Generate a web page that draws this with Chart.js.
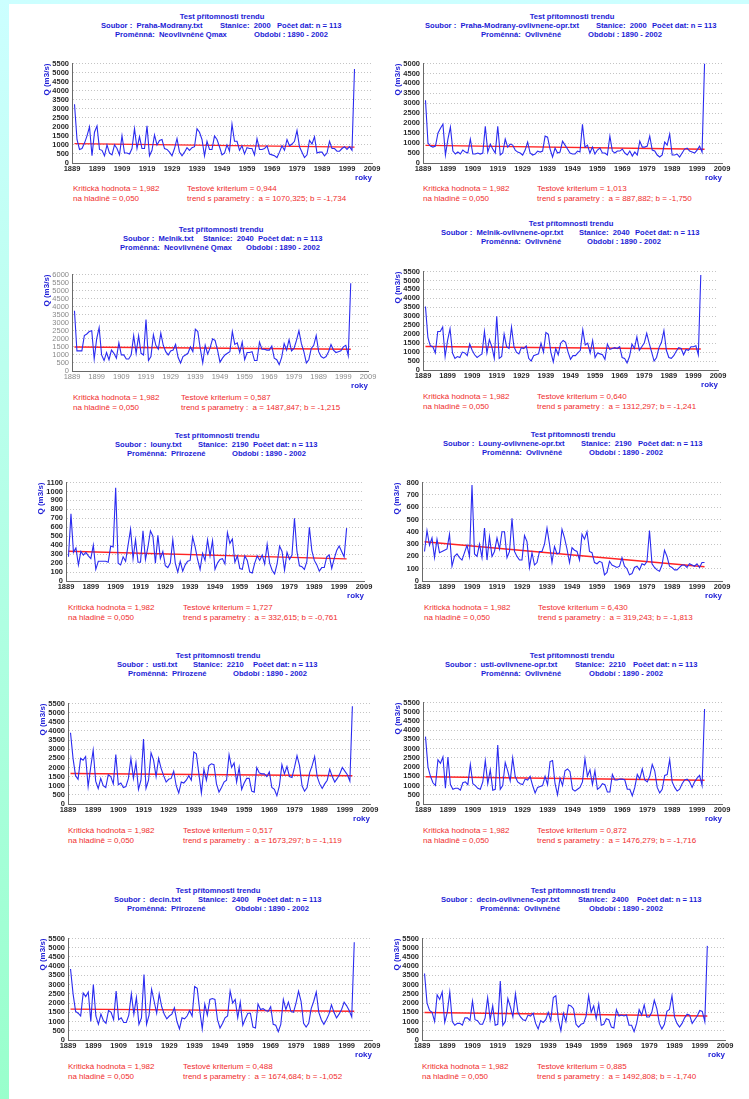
<!DOCTYPE html>
<html>
<head>
<meta charset="utf-8">
<script src="https://cdn.jsdelivr.net/npm/chart.js@4.4.1/dist/chart.umd.min.js"></script>
<style>
  html, body { margin: 0; padding: 0; }
  body {
    width: 749px; height: 1099px; position: relative; overflow: hidden;
    background: linear-gradient(#ccffff, #99ffcc);
    font-family: "Liberation Sans", Arial, sans-serif;
  }
  #sheet { position: absolute; left: 9px; top: 4px; right: 0; bottom: 0; background: #fff; }
  .t { position: absolute; white-space: pre; font-weight: bold; color: #1c1cd6; font-size: 7.6px; line-height: 10px; }
  .r { position: absolute; white-space: pre; color: #f02c2c; font-size: 8px; line-height: 10px; }
  canvas { position: absolute; }
</style>
</head>
<body>
<div id="sheet"></div>
<script>
// years 1890 - 2002 (n = 113)
const years = [];
for (let y = 1890; y <= 2002; y++) years.push(y);

// Praha-Modrany, neovlivnene Qmax
const prahaQ = [
  3250, 1300, 750, 800, 1100, 1500, 2000, 400, 1700, 2050,
  750, 700, 400, 1000, 550, 450, 1000, 800, 450, 1500,
  550, 550, 500, 800, 1900, 800, 1450, 800, 800, 2050,
  400, 700, 1550, 1000, 1250, 1300, 800, 750, 600, 400,
  800, 1350, 600, 400, 600, 850, 700, 850, 900, 1900,
  1700, 1300, 400, 1200, 750, 750, 1500, 1300, 900, 450,
  550, 1000, 650, 2150, 1200, 1200, 700, 950, 500, 850,
  800, 800, 450, 1350, 750, 750, 800, 950, 500, 450,
  400, 300, 600, 950, 700, 1300, 950, 1050, 1200, 1800,
  900, 600, 300, 450, 1250, 1050, 1450, 550, 600, 600,
  400, 550, 1200, 800, 800, 650, 650, 800, 900, 750,
  900, 700, 5200
];
// Praha-Modrany, ovlivnene
const prahaOvlQ = [
  3150, 1000, 850, 800, 850, 1500, 1750, 1950, 400, 1200,
  1800, 600, 450, 550, 450, 650, 550, 500, 1200, 450,
  450, 500, 450, 500, 1850, 550, 950, 700, 500, 1850,
  400, 500, 1200, 800, 950, 900, 650, 550, 500, 400,
  650, 1050, 500, 400, 450, 600, 550, 600, 1350, 1300,
  700, 300, 750, 500, 550, 1100, 900, 700, 500, 450,
  450, 600, 550, 1950, 800, 900, 500, 800, 450, 650,
  750, 500, 500, 400, 1350, 600, 500, 600, 600, 700,
  500, 400, 600, 350, 550, 400, 1100, 800, 800, 850,
  1350, 650, 600, 400, 300, 400, 1050, 900, 1450, 400,
  400, 450, 300, 500, 700, 750, 600, 550, 500, 650,
  850, 550, 5000
];
// Melnik, neovlivnene Qmax
const melnikQ = [
  3750, 1250, 1250, 1250, 2200, 2300, 2450, 2500, 750, 2000,
  2700, 1000, 650, 1150, 700, 1300, 1100, 800, 1750, 1000,
  1000, 750, 750, 1000, 2200, 1100, 2200, 1100, 1000, 3200,
  650, 900, 2250, 1600, 1350, 2350, 1600, 1200, 1000, 1250,
  1300, 1650, 850, 500, 900, 1000, 1100, 1500, 1200, 2600,
  2450, 1400, 500, 1600, 1050, 1450, 2000, 1900, 1300, 550,
  800, 1000, 1100, 1200, 2450, 1650, 1750, 1150, 1800, 700,
  1150, 1150, 1200, 650, 650, 1800, 1350, 1350, 1300, 1300,
  1550, 800, 700, 400, 850, 1700, 1300, 1950, 1250, 1400,
  1900, 2500, 1700, 1200, 500, 700, 1400, 1600, 2200, 1200,
  900, 800, 900, 1200, 1650, 1300, 1150, 1200, 1250, 1500,
  1600, 950, 5450
];
// Melnik, ovlivnene
const melnikOvlQ = [
  3550, 1800, 1350, 1300, 950, 2150, 2150, 2400, 750, 1650,
  2300, 950, 650, 750, 700, 1000, 950, 800, 1450, 1100,
  850, 700, 800, 900, 2150, 950, 1700, 1300, 650, 3000,
  650, 750, 2000, 1300, 1200, 2400, 1300, 1000, 900, 1250,
  1200, 1350, 650, 500, 800, 850, 900, 1500, 1000, 2100,
  2000, 1000, 450, 1200, 850, 1500, 1650, 1550, 1000, 600,
  800, 800, 950, 1100, 2250, 1400, 1500, 950, 1650, 700,
  950, 900, 850, 600, 1450, 1150, 1200, 1250, 1200, 1300,
  700, 650, 400, 750, 1450, 1200, 1850, 1100, 1300, 1500,
  2050, 1500, 1000, 500, 700, 1250, 1550, 2200, 1100, 700,
  650, 800, 1050, 1250, 1200, 850, 1150, 1100, 1300, 1300,
  1350, 850, 5300
];
// Louny, prirozene
const lounyQ = [
  270, 750, 320, 370, 180, 330, 290, 320, 280, 250,
  400, 130, 220, 220, 220, 220, 210, 390, 380, 1040,
  200, 180, 270, 220, 400, 580, 250, 460, 210, 210,
  560, 240, 380, 560, 500, 200, 510, 250, 330, 170,
  150, 200, 460, 200, 100, 220, 110, 180, 220, 230,
  490, 380, 240, 130, 310, 230, 460, 280, 450, 130,
  200, 240, 250, 190, 540, 420, 470, 210, 280, 140,
  130, 280, 230, 100, 90, 200, 280, 230, 290, 190,
  410, 200, 120, 80, 190, 390, 330, 120, 320, 240,
  290, 700, 330, 170, 160, 130, 220, 600, 340, 230,
  180, 110, 150, 150, 270, 290, 140, 250, 340, 390,
  330, 270, 590
];
// Louny, ovlivnene
const lounyOvlQ = [
  240, 410, 290, 350, 190, 340, 230, 240, 250, 260,
  380, 120, 200, 220, 190, 170, 230, 290, 200, 780,
  220, 200, 300, 190, 430, 170, 360, 200, 240, 350,
  260, 400, 400, 190, 240, 510, 240, 200, 170, 170,
  370, 320, 110, 230, 130, 150, 240, 240, 300, 430,
  300, 150, 280, 220, 230, 420, 350, 260, 150, 270,
  250, 240, 170, 380, 340, 400, 240, 230, 150, 140,
  160, 150, 50, 70, 160, 130, 120, 110, 120, 190,
  120, 100, 50, 60, 110, 120, 90, 140, 130, 160,
  410, 140, 110, 90, 80, 130, 250, 200, 120, 110,
  90, 90, 110, 130, 130, 110, 140, 130, 120, 140,
  110, 150, 150
];
// Usti, prirozene
const ustiQ = [
  3900, 2500, 1550, 1350, 2500, 2400, 2600, 950, 2000, 2950,
  1250, 850, 1400, 1000, 900, 1600, 1500, 1100, 2700, 1050,
  1150, 900, 950, 1400, 2500, 1400, 2250, 800, 1300, 3550,
  850, 1300, 2800, 2400, 1500, 2500, 1950, 1550, 1200, 1350,
  1400, 1800, 1000, 600, 1200, 1150, 1300, 1550, 1300, 2850,
  2750, 1650, 600, 1900, 1300, 2100, 2200, 2150, 1100, 650,
  900, 1200, 1300, 2700, 2000, 2250, 1200, 2000, 800, 1150,
  1400, 1400, 700, 650, 2000, 1700, 1650, 1650, 1500, 1750,
  900, 800, 450, 1000, 2150, 1650, 2050, 1500, 1450, 2000,
  2650, 2100, 1000, 700, 900, 1700, 2100, 2600, 1500, 1100,
  850, 1100, 1300, 1900, 1500, 1200, 1400, 1650, 2000, 1800,
  1600, 1250, 5350
];
// Usti, ovlivnene
const ustiOvlQ = [
  3650, 2000, 1500, 1150, 1000, 2400, 2200, 2550, 850, 2550,
  1050, 800, 850, 850, 750, 1150, 1200, 1050, 2150, 1100,
  1000, 850, 800, 1200, 2350, 1100, 1850, 750, 800, 3200,
  800, 1000, 2250, 1800, 1250, 2500, 1500, 1200, 1100, 1050,
  1350, 1300, 1500, 1000, 600, 900, 950, 1000, 1500, 1050,
  2300, 2350, 1100, 500, 1400, 1000, 1800, 1900, 1750, 800,
  700, 800, 900, 1200, 2450, 1500, 1850, 1050, 1800, 800,
  900, 1100, 1050, 650, 650, 1600, 1300, 1300, 1350, 1350,
  1300, 800, 800, 450, 900, 1600, 1350, 1900, 1300, 1200,
  1500, 2150, 1800, 900, 600, 800, 1550, 1600, 2400, 1200,
  900, 700, 800, 1100, 1300, 1350, 1200, 900, 1200, 1400,
  1550, 1000, 5150
];
// Decin, prirozene
const decinQ = [
  3850, 2500, 1550, 1450, 1300, 2550, 2350, 2600, 1000, 3000,
  1300, 850, 1400, 1050, 900, 1600, 1500, 1100, 2650, 1100,
  1200, 950, 950, 1350, 2500, 1400, 2300, 850, 1200, 3550,
  850, 1350, 2750, 2100, 1450, 2500, 1800, 1400, 1150, 1300,
  1400, 1750, 1000, 600, 1200, 1150, 1300, 1600, 1300, 2900,
  2800, 1600, 600, 1950, 1350, 2200, 2250, 2200, 1100, 650,
  900, 1200, 1300, 2650, 2000, 2200, 1200, 2050, 800, 1150,
  1450, 1450, 700, 650, 1950, 1650, 1700, 1600, 1550, 1800,
  850, 800, 450, 850, 2200, 1650, 2050, 1550, 1500, 2000,
  2650, 2100, 900, 700, 900, 1700, 2100, 2600, 1500, 1100,
  850, 1100, 1400, 1900, 1500, 1200, 1400, 1650, 2050, 1850,
  1600, 1250, 5300
];
// Decin, ovlivnene
const decinOvlQ = [
  3600, 2000, 1600, 1500, 1000, 2450, 2200, 2600, 950, 1500,
  2600, 1000, 800, 900, 900, 800, 1200, 1200, 1050, 2100,
  1100, 1050, 850, 850, 1200, 2300, 1100, 1850, 800, 850,
  3200, 800, 1000, 2250, 1800, 1250, 2500, 1500, 1250, 1100,
  1050, 1350, 1300, 1450, 900, 600, 1050, 950, 1100, 1500,
  1050, 2300, 2400, 1100, 500, 1450, 1000, 1900, 1850, 1700,
  850, 700, 850, 900, 1300, 2400, 1500, 1850, 1150, 1950,
  800, 850, 1150, 1100, 700, 650, 1650, 1300, 1350, 1300,
  1350, 800, 800, 450, 900, 1650, 1350, 1900, 1250, 1250,
  1500, 2150, 1700, 900, 600, 850, 1550, 1650, 2400, 1250,
  900, 700, 900, 1200, 1400, 1350, 900, 1100, 1300, 1600,
  1550, 1000, 5100
];

const series = [prahaQ, prahaOvlQ, melnikQ, melnikOvlQ, lounyQ, lounyOvlQ, ustiQ, ustiOvlQ, decinQ, decinOvlQ];

// trend line value at 1890 and at 2002
const trendStart = [1070, 888, 1488, 1312, 333, 319, 1673, 1476, 1675, 1493];
const trendEnd = [876, 692, 1352, 1173, 247, 116, 1548, 1284, 1557, 1298];

const files = ['Praha-Modrany.txt', 'Praha-Modrany-ovlivnene-opr.txt', 'Melnik.txt', 'Melnik-ovlivnene-opr.txt',
  'louny.txt', 'Louny-ovlivnene-opr.txt', 'usti.txt', 'usti-ovlivnene-opr.txt', 'decin.txt', 'decin-ovlivnene-opr.txt'];
const stations = ['2000', '2000', '2040', '2040', '2190', '2190', '2210', '2210', '2400', '2400'];
const variables = ['Neovlivněné Qmax', 'Ovlivněné', 'Neovlivněné Qmax', 'Ovlivněné', 'Přirozené', 'Ovlivněné',
  'Přirozené', 'Ovlivněné', 'Přirozené', 'Ovlivněné'];
const criteria = ['0,944', '1,013', '0,587', '0,640', '1,727', '6,430', '0,517', '0,872', '0,488', '0,885'];
const paramA = ['1070,325', '887,882', '1487,847', '1312,297', '332,615', '319,243', '1673,297', '1476,279', '1674,684', '1492,808'];
const paramB = ['-1,734', '-1,750', '-1,215', '-1,241', '-0,761', '-1,813', '-1,119', '-1,716', '-1,052', '-1,740'];
const yMax = [5500, 5000, 6000, 5500, 1100, 800, 5500, 5500, 5500, 5500];
const yStep = [500, 500, 500, 500, 100, 100, 500, 500, 500, 500];

// page placement of each panel: plot box [left, top, right, bottom], header, text columns
const layout = [
  { plot: [72, 62, 372, 163], ty: 17, cx: 222, s: 101, st: 220, pc: 277, pr: 115, ob: 254, red: [73, 187, 189] },
  { plot: [423, 62, 722, 163], ty: 17, cx: 572, s: 425, st: 596, pc: 652, pr: 481, ob: 588, red: [423, 537, 189] },
  { plot: [72, 273, 368, 371], ty: 230, cx: 221, s: 123, st: 203, pc: 258, pr: 120, ob: 246, red: [73, 181, 398], light: true },
  { plot: [423, 270, 718, 370], ty: 224, cx: 571, s: 441, st: 579, pc: 635, pr: 481, ob: 587, red: [423, 537, 397] },
  { plot: [66, 481, 364, 581], ty: 436, cx: 217, s: 115, st: 198, pc: 253, pr: 127, ob: 232, red: [68, 183, 608] },
  { plot: [422, 481, 722, 581], ty: 435, cx: 573, s: 443, st: 581, pc: 638, pr: 482, ob: 589, red: [424, 538, 608] },
  { plot: [68, 702, 370, 804], ty: 656, cx: 218, s: 117, st: 193, pc: 253, pr: 128, ob: 233, red: [68, 183, 831] },
  { plot: [423, 701, 722, 804], ty: 656, cx: 572, s: 445, st: 575, pc: 633, pr: 481, ob: 589, red: [423, 537, 831] },
  { plot: [68, 937, 372, 1040], ty: 891, cx: 218, s: 114, st: 198, pc: 257, pr: 127, ob: 235, red: [68, 183, 1067] },
  { plot: [422, 937, 725, 1040], ty: 891, cx: 573, s: 441, st: 578, pc: 637, pr: 480, ob: 589, red: [422, 537, 1067] }
];

const BLUE = '#1c1cd6';
const FONT = '"Liberation Sans", Arial, sans-serif';

function addText(cls, text, x, y, center) {
  const d = document.createElement('div');
  d.className = cls;
  d.textContent = text;
  d.style.top = (y - 5) + 'px';
  if (center) {
    d.style.left = (x - 200) + 'px';
    d.style.width = '400px';
    d.style.textAlign = 'center';
  } else {
    d.style.left = x + 'px';
  }
  document.body.appendChild(d);
}

function makePanel(i) {
  const lay = layout[i];
  const [L, T, R, B] = lay.plot;

  // header
  addText('t', 'Test přítomnosti trendu', lay.cx, lay.ty, true);
  addText('t', 'Soubor :  ' + files[i], lay.s, lay.ty + 9);
  addText('t', 'Stanice:  ' + stations[i], lay.st, lay.ty + 9);
  addText('t', 'Počet dat: n = 113', lay.pc, lay.ty + 9);
  addText('t', 'Proměnná:  ' + variables[i], lay.pr, lay.ty + 18);
  addText('t', 'Období : 1890 - 2002', lay.ob, lay.ty + 18);

  // footer
  addText('r', 'Kritická hodnota = 1,982', lay.red[0], lay.red[2]);
  addText('r', 'na hladině = 0,050', lay.red[0], lay.red[2] + 10);
  addText('r', 'Testové kriterium = ' + criteria[i], lay.red[1], lay.red[2]);
  addText('r', 'trend s parametry :  a = ' + paramA[i] + '; b = ' + paramB[i], lay.red[1], lay.red[2] + 10);

  // chart canvas sized so the plot area lands on the box
  const yW = 32, padTop = 6, padRight = 14, xH = 20;
  const w = (R - L) + yW + padRight, h = (B - T) + padTop + xH;
  const cv = document.createElement('canvas');
  cv.width = w; cv.height = h;
  cv.style.left = (L - yW) + 'px';
  cv.style.top = (T - padTop) + 'px';
  cv.style.width = w + 'px';
  cv.style.height = h + 'px';
  document.body.appendChild(cv);

  const tickColor = lay.light ? '#8a8a8a' : '#2a2a2a';
  const tickWeight = lay.light ? 'normal' : 'bold';

  new Chart(cv, {
    type: 'line',
    data: {
      datasets: [
        {
          data: series[i].map((v, k) => ({ x: years[k], y: v })),
          borderColor: '#2b2bf0',
          borderWidth: 1.1,
          pointRadius: 0,
          tension: 0
        },
        {
          data: [{ x: years[0], y: trendStart[i] }, { x: years[years.length - 1], y: trendEnd[i] }],
          borderColor: '#ff2424',
          borderWidth: 1.4,
          pointRadius: 0
        }
      ]
    },
    options: {
      responsive: false,
      animation: false,
      layout: { padding: { top: padTop, right: padRight, left: 0, bottom: 0 } },
      plugins: { legend: { display: false }, tooltip: { enabled: false } },
      scales: {
        x: {
          type: 'linear',
          min: 1889,
          max: 2009,
          afterFit: (s) => { s.height = xH; },
          ticks: {
            stepSize: 10,
            padding: 1,
            maxRotation: 0,
            autoSkip: false,
            color: tickColor,
            font: { family: FONT, size: 7.5, weight: tickWeight },
            callback: (v) => String(v)
          },
          grid: { drawOnChartArea: false, drawTicks: false },
          border: { display: true, color: '#6a6a6a', width: 1 },
          title: {
            display: true, text: 'roky', align: 'end', color: BLUE, padding: 0,
            font: { family: FONT, size: 8, weight: 'bold' }
          }
        },
        y: {
          min: 0,
          max: yMax[i],
          afterFit: (s) => { s.width = yW; },
          ticks: {
            stepSize: yStep[i],
            padding: 3,
            autoSkip: false,
            color: tickColor,
            font: { family: FONT, size: 7.5, weight: tickWeight },
            callback: (v) => String(v)
          },
          grid: { color: '#c4c4c4', drawTicks: false, lineWidth: 1 },
          border: { display: true, color: '#6a6a6a', width: 1, dash: [1, 2] },
          title: {
            display: true, text: 'Q (m3/s)', align: 'end', color: BLUE, padding: { top: 2, bottom: 0 },
            font: { family: FONT, size: 8, weight: 'bold' }
          }
        }
      }
    }
  });
}

for (let i = 0; i < layout.length; i++) makePanel(i);
</script>
</body>
</html>
